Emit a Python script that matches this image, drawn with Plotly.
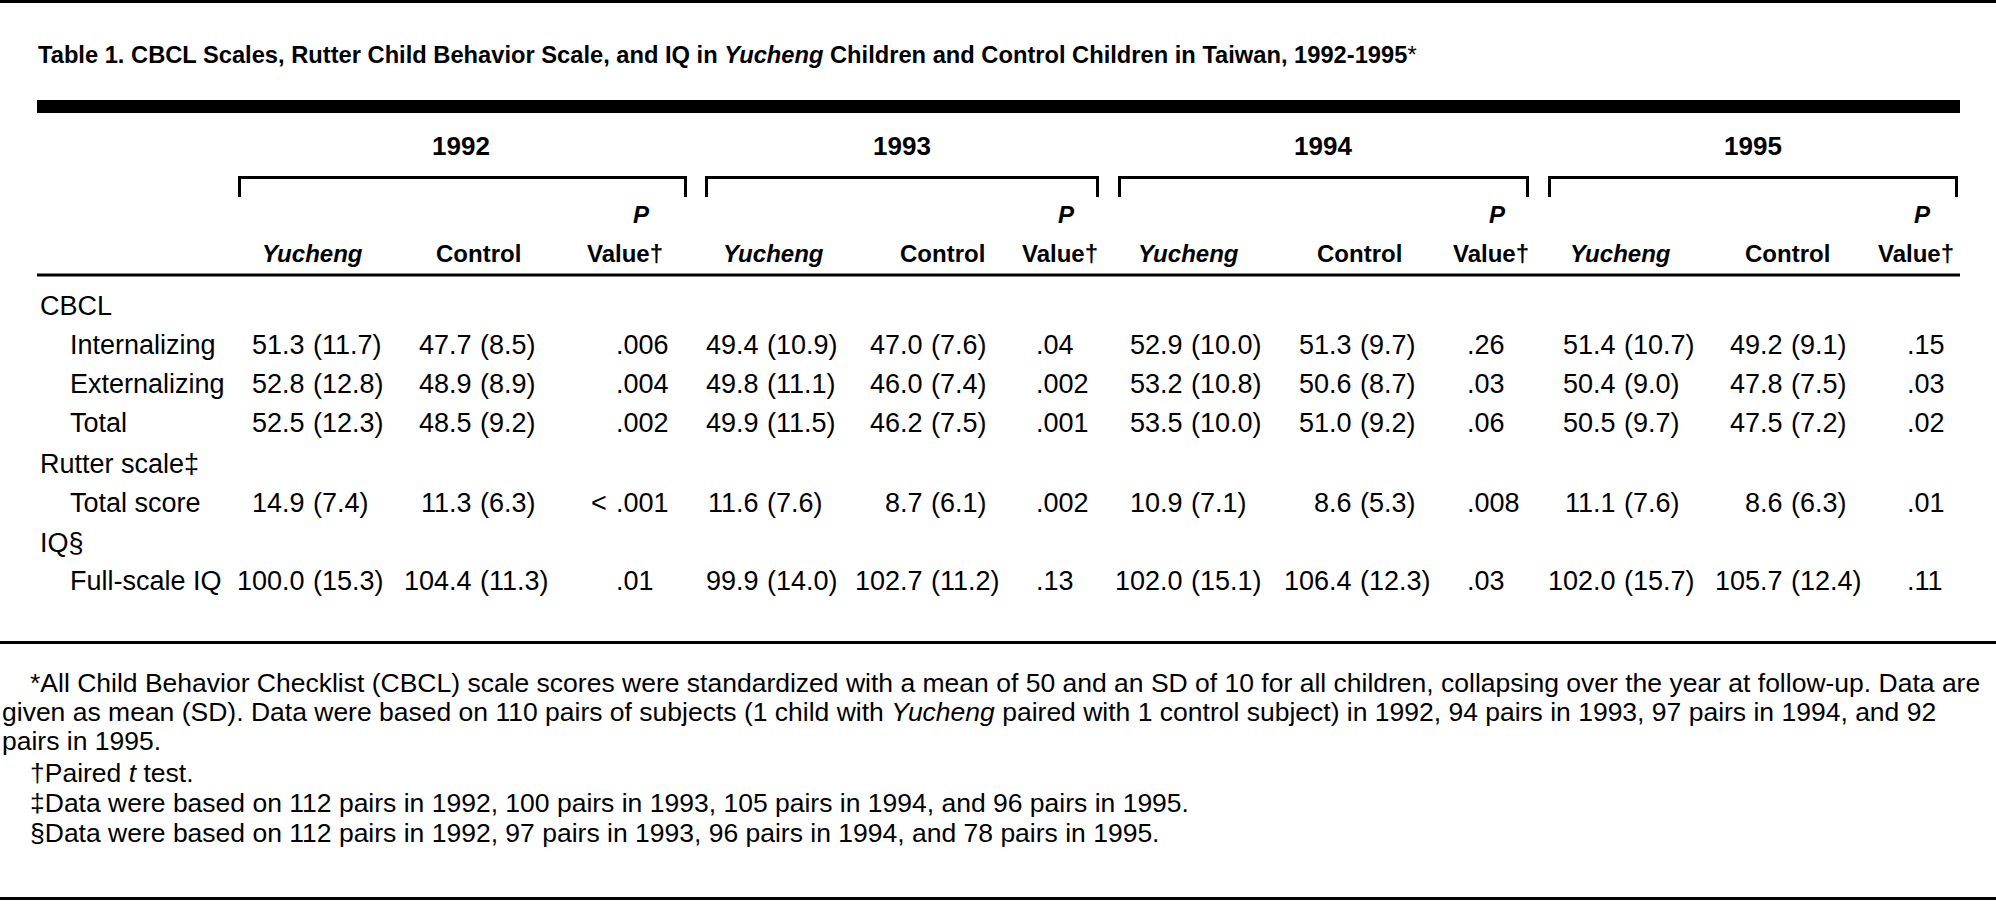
import plotly.graph_objects as go

# ---------------- data ----------------
years = ["1992", "1993", "1994", "1995"]
group_labels = ["CBCL", "Rutter scale‡", "IQ§"]
row_labels = ["Internalizing", "Externalizing", "Total", "Total score", "Full-scale IQ"]
sub_headers = ["<i>Yucheng</i>", "Control"]
p_header_top = "<i>P</i>"
p_header_bottom = "Value†"

yucheng_mean_1992 = [51.3, 52.8, 52.5, 14.9, 100.0]
yucheng_sd_1992 = [11.7, 12.8, 12.3, 7.4, 15.3]
control_mean_1992 = [47.7, 48.9, 48.5, 11.3, 104.4]
control_sd_1992 = [8.5, 8.9, 9.2, 6.3, 11.3]
p_1992 = [".006", ".004", ".002", "<.001", ".01"]

yucheng_mean_1993 = [49.4, 49.8, 49.9, 11.6, 99.9]
yucheng_sd_1993 = [10.9, 11.1, 11.5, 7.6, 14.0]
control_mean_1993 = [47.0, 46.0, 46.2, 8.7, 102.7]
control_sd_1993 = [7.6, 7.4, 7.5, 6.1, 11.2]
p_1993 = [".04", ".002", ".001", ".002", ".13"]

yucheng_mean_1994 = [52.9, 53.2, 53.5, 10.9, 102.0]
yucheng_sd_1994 = [10.0, 10.8, 10.0, 7.1, 15.1]
control_mean_1994 = [51.3, 50.6, 51.0, 8.6, 106.4]
control_sd_1994 = [9.7, 8.7, 9.2, 5.3, 12.3]
p_1994 = [".26", ".03", ".06", ".008", ".03"]

yucheng_mean_1995 = [51.4, 50.4, 50.5, 11.1, 102.0]
yucheng_sd_1995 = [10.7, 9.0, 9.7, 7.6, 15.7]
control_mean_1995 = [49.2, 47.8, 47.5, 8.6, 105.7]
control_sd_1995 = [9.1, 7.5, 7.2, 6.3, 12.4]
p_1995 = [".15", ".03", ".02", ".01", ".11"]

title_text = ("<b>Table 1. CBCL Scales, Rutter Child Behavior Scale, and IQ in <i>Yucheng</i> "
              "Children and Control Children in Taiwan, 1992-1995</b>*")

footnotes = [
    "*All Child Behavior Checklist (CBCL) scale scores were standardized with a mean of 50 and an SD of 10 "
    "for all children, collapsing over the year at follow-up. Data are",
    "given as mean (SD). Data were based on 110 pairs of subjects (1 child with <i>Yucheng</i> paired with "
    "1 control subject) in 1992, 94 pairs in 1993, 97 pairs in 1994, and 92",
    "pairs in 1995.",
    "†Paired <i>t</i> test.",
    "‡Data were based on 112 pairs in 1992, 100 pairs in 1993, 105 pairs in 1994, and 96 pairs in 1995.",
    "§Data were based on 112 pairs in 1992, 97 pairs in 1993, 96 pairs in 1994, and 78 pairs in 1995.",
]

yucheng_means = [yucheng_mean_1992, yucheng_mean_1993, yucheng_mean_1994, yucheng_mean_1995]
yucheng_sds = [yucheng_sd_1992, yucheng_sd_1993, yucheng_sd_1994, yucheng_sd_1995]
control_means = [control_mean_1992, control_mean_1993, control_mean_1994, control_mean_1995]
control_sds = [control_sd_1992, control_sd_1993, control_sd_1994, control_sd_1995]
p_values = [p_1992, p_1993, p_1994, p_1995]

# ---------------- layout (pixel positions) ----------------
W, H = 1996, 905
BODY = "Liberation Sans, Arial, sans-serif"
FS = 27          # body font size
HFS = 24         # column header size (bold)
TFS = 23.7       # title font size (bold)
YFS = 26         # year header size
FFS = 26.5       # footnote size

group_base = [315, 473, 552]
row_base = [354, 393, 432, 512, 590]
year_base = 155
p_top_base = 223
hdr_base = 262
title_base = 63

year_cx = [461, 902, 1323, 1753]
bracket_x = [(238, 687), (705, 1099), (1118, 1529), (1548, 1958)]
yuch_mean_end = [306, 760, 1184, 1617]
ctrl_mean_end = [473, 924, 1353, 1784]
p_left = [615, 1035, 1466, 1906]
hdr_yuch_cx = [312, 773, 1188, 1620]
hdr_ctrl_cx = [478, 942, 1359, 1787]
hdr_p_cx = [625, 1060, 1491, 1916]
p_top_dx = [16, 6, 6, 6]
SP = 6

foot_base = [692, 721, 750, 782, 812, 842]
foot_x = [29, 1, 1, 29, 29, 29]


def mid(baseline, fs):
    return baseline - 0.3465 * fs


annotations = []


def add(text, x, baseline, fs, family=BODY, xanchor="left"):
    annotations.append(dict(
        text=text, x=x, y=mid(baseline, fs), xref="x", yref="y",
        xanchor=xanchor, yanchor="middle", showarrow=False,
        font=dict(family=family, size=fs, color="black"), borderpad=0,
    ))


# title
add(title_text, 37, title_base, TFS)

# year headers, column headers
for i, yr in enumerate(years):
    add("<b>" + yr + "</b>", year_cx[i], year_base, YFS, BODY, "center")
    add("<b>" + sub_headers[0] + "</b>", hdr_yuch_cx[i], hdr_base, HFS, BODY, "center")
    add("<b>" + sub_headers[1] + "</b>", hdr_ctrl_cx[i], hdr_base, HFS, BODY, "center")
    add("<b>" + p_header_top + "</b>", hdr_p_cx[i] + p_top_dx[i], p_top_base, HFS, BODY, "center")
    add("<b>" + p_header_bottom + "</b>", hdr_p_cx[i], hdr_base, HFS, BODY, "center")

# row labels
for g, b in zip(group_labels, group_base):
    add(g, 39, b, FS)
for r, b in zip(row_labels, row_base):
    add(r, 69, b, FS)

# cells
for i in range(len(years)):
    for j, b in enumerate(row_base):
        add(f"{yucheng_means[i][j]:.1f}", yuch_mean_end[i], b, FS, BODY, "right")
        add(f"({yucheng_sds[i][j]:.1f})", yuch_mean_end[i] + SP, b, FS, BODY, "left")
        add(f"{control_means[i][j]:.1f}", ctrl_mean_end[i], b, FS, BODY, "right")
        add(f"({control_sds[i][j]:.1f})", ctrl_mean_end[i] + SP, b, FS, BODY, "left")
        pv = p_values[i][j]
        k = pv.index(".")
        if k > 0:
            add(pv[:k], p_left[i] - 7, b, FS, BODY, "right")
        add(pv[k:], p_left[i], b, FS, BODY, "left")

# footnotes
for t, x, b in zip(footnotes, foot_x, foot_base):
    add(t, x, b, FFS)

shapes = []


def hline(x0, x1, y, w=3):
    shapes.append(dict(type="line", xref="x", yref="y", x0=x0, x1=x1, y0=y, y1=y,
                       line=dict(color="black", width=w)))


def vline(x, y0, y1, w=3):
    shapes.append(dict(type="line", xref="x", yref="y", x0=x, x1=x, y0=y0, y1=y1,
                       line=dict(color="black", width=w)))


hline(0, W, 1.5, 3)
shapes.append(dict(type="rect", xref="x", yref="y", x0=37, x1=1960, y0=100, y1=113,
                   fillcolor="black", line=dict(width=0)))
for x0, x1 in bracket_x:
    hline(x0, x1, 177.5, 3)
    vline(x0 + 1.5, 176, 197, 3)
    vline(x1 - 1.5, 176, 197, 3)
hline(37, 1960, 275, 3)
hline(0, W, 642.5, 3)
hline(0, W, 898.5, 3)

fig = go.Figure()
fig.update_layout(
    width=W, height=H, margin=dict(l=0, r=0, t=0, b=0),
    paper_bgcolor="white", plot_bgcolor="white",
    xaxis=dict(range=[0, W], visible=False, fixedrange=True),
    yaxis=dict(range=[H, 0], visible=False, fixedrange=True),
    annotations=annotations, shapes=shapes, showlegend=False,
)

fig.write_html("out.html", config={"displayModeBar": False, "staticPlot": True},
               post_script="document.body.style.margin='0';document.body.style.overflow='hidden';")
